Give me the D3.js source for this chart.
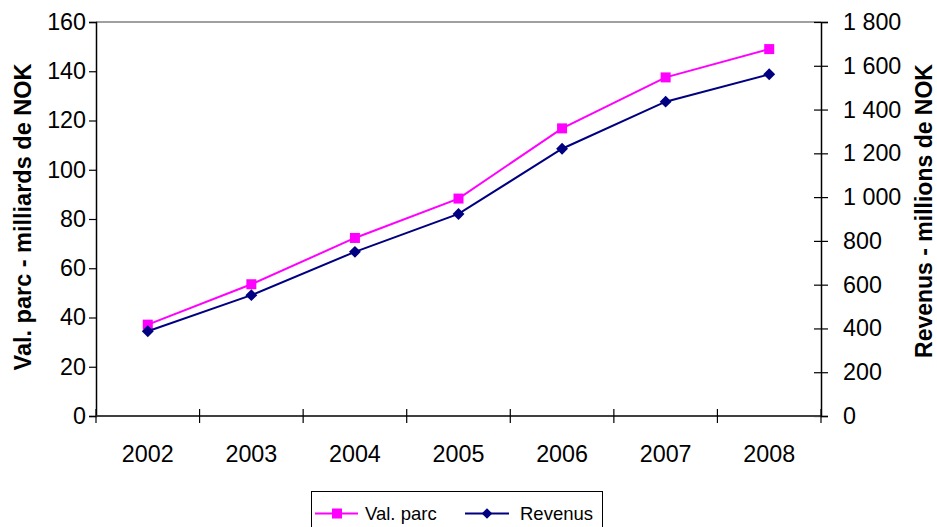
<!DOCTYPE html>
<html>
<head>
<meta charset="utf-8">
<script src="https://cdn.jsdelivr.net/npm/d3@7"></script>
<style>
  html, body { margin: 0; padding: 0; background: #fff; }
  svg { display: block; font-family: "Liberation Sans", Arial, sans-serif; }
</style>
</head>
<body>
<svg id="chart" width="937" height="527"></svg>
<script>
// Years on the category axis
const years = ["2002", "2003", "2004", "2005", "2006", "2007", "2008"];
// Portfolio value, billions NOK (left axis)
const valParc = [37.1, 53.5, 72.3, 88.3, 116.8, 137.5, 149.0];
// Revenue, millions NOK (right axis)
const revenus = [387, 552, 750, 923, 1221, 1436, 1561];
// Tick values for both vertical axes
const leftTicks = [0, 20, 40, 60, 80, 100, 120, 140, 160];
const rightTicks = [0, 200, 400, 600, 800, 1000, 1200, 1400, 1600, 1800];

const svg = d3.select("#chart");
const plot = { left: 96, right: 821, top: 22, bottom: 416 };

const x = d3.scaleBand().domain(years).range([plot.left, plot.right]);
const yL = d3.scaleLinear().domain([0, 160]).range([plot.bottom, plot.top]);
const yR = d3.scaleLinear().domain([0, 1800]).range([plot.bottom, plot.top]);

// Thousands separated by a space: 1 800
const fmtR = v => v >= 1000 ? String(Math.floor(v / 1000)) + " " + String(v % 1000).padStart(3, "0") : String(v);
const tickFont = 23.3;

// Top border of the plot area
svg.append("line")
  .attr("x1", plot.left).attr("x2", plot.right)
  .attr("y1", plot.top).attr("y2", plot.top)
  .attr("stroke", "#808080").attr("stroke-width", 1.5);

// Left axis
const gL = svg.append("g").attr("transform", `translate(${plot.left},0)`)
  .call(d3.axisLeft(yL).tickValues(leftTicks).tickSize(7).tickPadding(3));
gL.select(".domain").attr("stroke", "#000").attr("stroke-width", 1.5);
gL.selectAll(".tick line").attr("stroke", "#000").attr("stroke-width", 1.2);
gL.selectAll("text").attr("font-size", tickFont).attr("fill", "#000")
  .attr("font-family", "Liberation Sans, Arial, sans-serif");

// Right axis (ticks cross the axis line)
const gR = svg.append("g").attr("transform", `translate(${plot.right},0)`)
  .call(d3.axisRight(yR).tickValues(rightTicks).tickFormat(fmtR).tickSize(7).tickPadding(15));
gR.select(".domain").attr("stroke", "#000").attr("stroke-width", 1.5);
gR.selectAll(".tick line").attr("x1", -7).attr("stroke", "#000").attr("stroke-width", 1.2);
gR.selectAll("text").attr("font-size", tickFont).attr("fill", "#000")
  .attr("font-family", "Liberation Sans, Arial, sans-serif");

// Bottom axis with ticks at category boundaries
const gB = svg.append("g").attr("transform", `translate(0,${plot.bottom})`);
gB.append("line")
  .attr("x1", plot.left).attr("x2", plot.right)
  .attr("stroke", "#404040").attr("stroke-width", 2);
const bounds = years.map(d => x(d)).concat([x(years[years.length - 1]) + x.bandwidth()]);
gB.selectAll("line.tk").data(bounds).join("line").attr("class", "tk")
  .attr("x1", d => d).attr("x2", d => d).attr("y1", -7).attr("y2", 7)
  .attr("stroke", "#000").attr("stroke-width", 1.2);
gB.selectAll("text").data(years).join("text")
  .attr("x", d => x(d) + x.bandwidth() / 2).attr("y", 46)
  .attr("text-anchor", "middle").attr("font-size", tickFont).attr("fill", "#000")
  .text(d => d);

// Axis titles
svg.append("text")
  .attr("transform", "translate(31,217) rotate(-90)")
  .attr("text-anchor", "middle").attr("font-size", 23.5).attr("font-weight", "bold")
  .text("Val. parc - milliards de NOK");
svg.append("text")
  .attr("transform", "translate(932,211) rotate(-90)")
  .attr("text-anchor", "middle").attr("font-size", 23).attr("font-weight", "bold")
  .text("Revenus - millions de NOK");

const cx = d => x(d) + x.bandwidth() / 2;
const pink = "#FF00FF", navy = "#000080";

// Val. parc series
const valData = years.map((y, i) => ({ year: y, v: valParc[i] }));
svg.append("path").datum(valData)
  .attr("fill", "none").attr("stroke", pink).attr("stroke-width", 2)
  .attr("d", d3.line().x(d => cx(d.year)).y(d => yL(d.v)));
svg.selectAll("rect.vp").data(valData).join("rect").attr("class", "vp")
  .attr("x", d => cx(d.year) - 5).attr("y", d => yL(d.v) - 5)
  .attr("width", 10).attr("height", 10).attr("fill", pink);

// Revenus series
const revData = years.map((y, i) => ({ year: y, v: revenus[i] }));
svg.append("path").datum(revData)
  .attr("fill", "none").attr("stroke", navy).attr("stroke-width", 2)
  .attr("d", d3.line().x(d => cx(d.year)).y(d => yR(d.v)));
const diamond = d3.symbol().type(d3.symbolDiamond2).size(90);
svg.selectAll("path.rv").data(revData).join("path").attr("class", "rv")
  .attr("transform", d => `translate(${cx(d.year)},${yR(d.v)})`)
  .attr("d", diamond).attr("fill", navy);

// Legend
const lg = svg.append("g");
lg.append("rect").attr("x", 311.5).attr("y", 491.5).attr("width", 291).attr("height", 50)
  .attr("fill", "#fff").attr("stroke", "#000").attr("stroke-width", 1);
const ly = 513.5;
lg.append("line").attr("x1", 315).attr("x2", 358).attr("y1", ly).attr("y2", ly)
  .attr("stroke", pink).attr("stroke-width", 2);
lg.append("rect").attr("x", 332).attr("y", ly - 5).attr("width", 10).attr("height", 10).attr("fill", pink);
lg.append("text").attr("x", 365).attr("y", ly + 6.5).attr("font-size", 18.5).text("Val. parc");
lg.append("line").attr("x1", 465).attr("x2", 509).attr("y1", ly).attr("y2", ly)
  .attr("stroke", navy).attr("stroke-width", 2);
lg.append("path").attr("transform", `translate(487,${ly})`)
  .attr("d", d3.symbol().type(d3.symbolDiamond2).size(70)).attr("fill", navy);
lg.append("text").attr("x", 520).attr("y", ly + 6.5).attr("font-size", 18.5).text("Revenus");
</script>
</body>
</html>
